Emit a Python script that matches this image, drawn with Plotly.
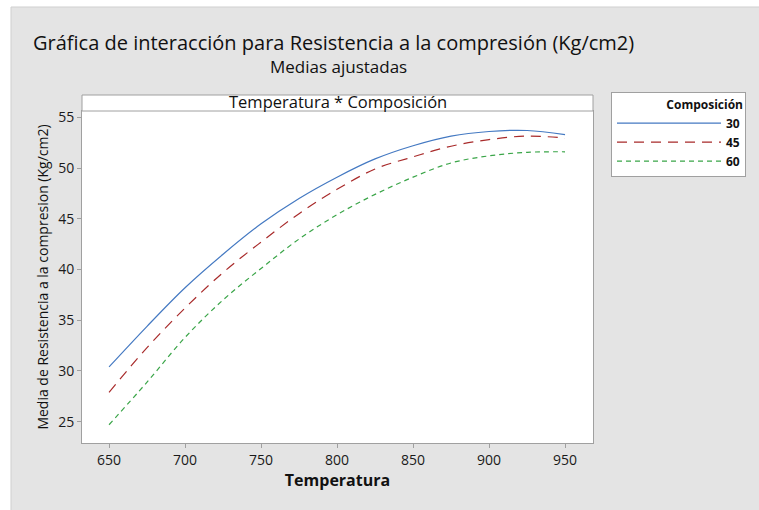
import plotly.graph_objects as go

temperatura = [650, 675, 700, 725, 750, 775, 800, 825, 850, 875, 900, 925, 950]
comp_30 = [30.4, 34.4, 38.2, 41.5, 44.5, 47.0, 49.1, 50.9, 52.2, 53.15, 53.6, 53.7, 53.3]
comp_45 = [27.9, 32.3, 36.2, 39.7, 42.7, 45.5, 47.9, 49.9, 51.1, 52.15, 52.8, 53.15, 52.95]
comp_60 = [24.7, 28.9, 33.3, 37.0, 40.1, 43.0, 45.4, 47.4, 49.1, 50.5, 51.2, 51.55, 51.6]
series_names = ["30", "45", "60"]
x_ticks = [650, 700, 750, 800, 850, 900, 950]
y_ticks = [25, 30, 35, 40, 45, 50, 55]

FONT = "Open Sans"
W, H = 759, 510
L, T = 82, 111
R = W - 593
B = H - 443

fig = go.Figure()
styles = [("#4479c2", "solid"), ("#a82a2a", "10px,7px"), ("#3aa548", "5px,4px")]
for name, ys, (col, dash) in zip(series_names, [comp_30, comp_45, comp_60], styles):
    fig.add_trace(go.Scatter(x=temperatura, y=ys, mode="lines", name=name,
                             line=dict(color=col, width=1.2, dash=dash, shape="spline")))

pw, ph = W - L - R, H - T - B
def px_x(p):  # page pixel -> paper
    return (p - L) / pw
def px_y(p):
    return (H - B - p) / ph

shapes = [
    dict(type="rect", xref="paper", yref="paper", x0=px_x(-5), x1=px_x(11), y0=px_y(-5), y1=px_y(520),
         fillcolor="white", line=dict(width=0), layer="below"),
    dict(type="rect", xref="paper", yref="paper", x0=px_x(-5), x1=px_x(770), y0=px_y(-5), y1=px_y(7),
         fillcolor="white", line=dict(width=0), layer="below"),
    dict(type="line", xref="paper", yref="paper", x0=px_x(11), x1=px_x(11), y0=px_y(7), y1=px_y(520),
         line=dict(color="#cfcfcf", width=1), layer="below"),
    dict(type="line", xref="paper", yref="paper", x0=px_x(11), x1=px_x(770), y0=px_y(7), y1=px_y(7),
         line=dict(color="#cfcfcf", width=1), layer="below"),
    # header strip
    dict(type="rect", xref="paper", yref="paper", x0=0, x1=1, y0=1, y1=px_y(95),
         fillcolor="white", line=dict(color="#a0a0a0", width=1), layer="above"),
]

annotations = [
    dict(text="Gráfica de interacción para Resistencia a la compresión (Kg/cm2)", xref="paper", yref="paper",
         x=px_x(333), y=px_y(43), showarrow=False, font=dict(family=FONT, size=20, color="#111"),
         xanchor="center", yanchor="middle"),
    dict(text="Medias ajustadas", xref="paper", yref="paper", x=px_x(338), y=px_y(67), showarrow=False,
         font=dict(family=FONT, size=17, color="#111"), xanchor="center", yanchor="middle"),
    dict(text="Temperatura * Composición", xref="paper", yref="paper", x=0.5, y=px_y(101), showarrow=False,
         font=dict(family=FONT, size=16.5, color="#111"), xanchor="center", yanchor="middle"),
]

fig.update_layout(
    width=W, height=H,
    margin=dict(l=L, r=R, t=T, b=B),
    paper_bgcolor="#e4e4e4", plot_bgcolor="white",
    font=dict(family=FONT, color="#111"),
    shapes=shapes, annotations=annotations,
    xaxis=dict(range=[632.2, 968.4], tickvals=x_ticks, ticks="outside", ticklen=4, tickcolor="#a0a0a0",
               showline=True, linecolor="#a0a0a0", mirror=True, showgrid=False, zeroline=False,
               tickfont=dict(size=14, family=FONT, color="#1a1a1a"),
               title=dict(text="<b>Temperatura</b>", font=dict(size=16, family=FONT, color="#111"), standoff=7)),
    yaxis=dict(range=[22.9, 55.62], tickvals=y_ticks, ticks="outside", ticklen=4, tickcolor="#a0a0a0",
               showline=True, linecolor="#a0a0a0", mirror=True, showgrid=False, zeroline=False,
               tickfont=dict(size=14, family=FONT, color="#1a1a1a"),
               title=dict(text="Media de Resistencia a la compresion (Kg/cm2)",
                          font=dict(size=14, family=FONT, color="#111"), standoff=6)),
    legend=dict(x=px_x(611), y=px_y(92), xanchor="left", yanchor="top",
                bgcolor="white", bordercolor="#a0a0a0", borderwidth=1,
                itemwidth=104, tracegroupgap=0,
                font=dict(size=12, family=FONT, color="#111", weight="bold"),
                title=dict(text="<b>Composición</b>", side="top right", font=dict(size=12, family=FONT))),
    showlegend=True,
)

fig.write_html("out.html", config={"displayModeBar": False},
               post_script="document.body.style.margin='0';document.body.style.overflow='hidden';")
